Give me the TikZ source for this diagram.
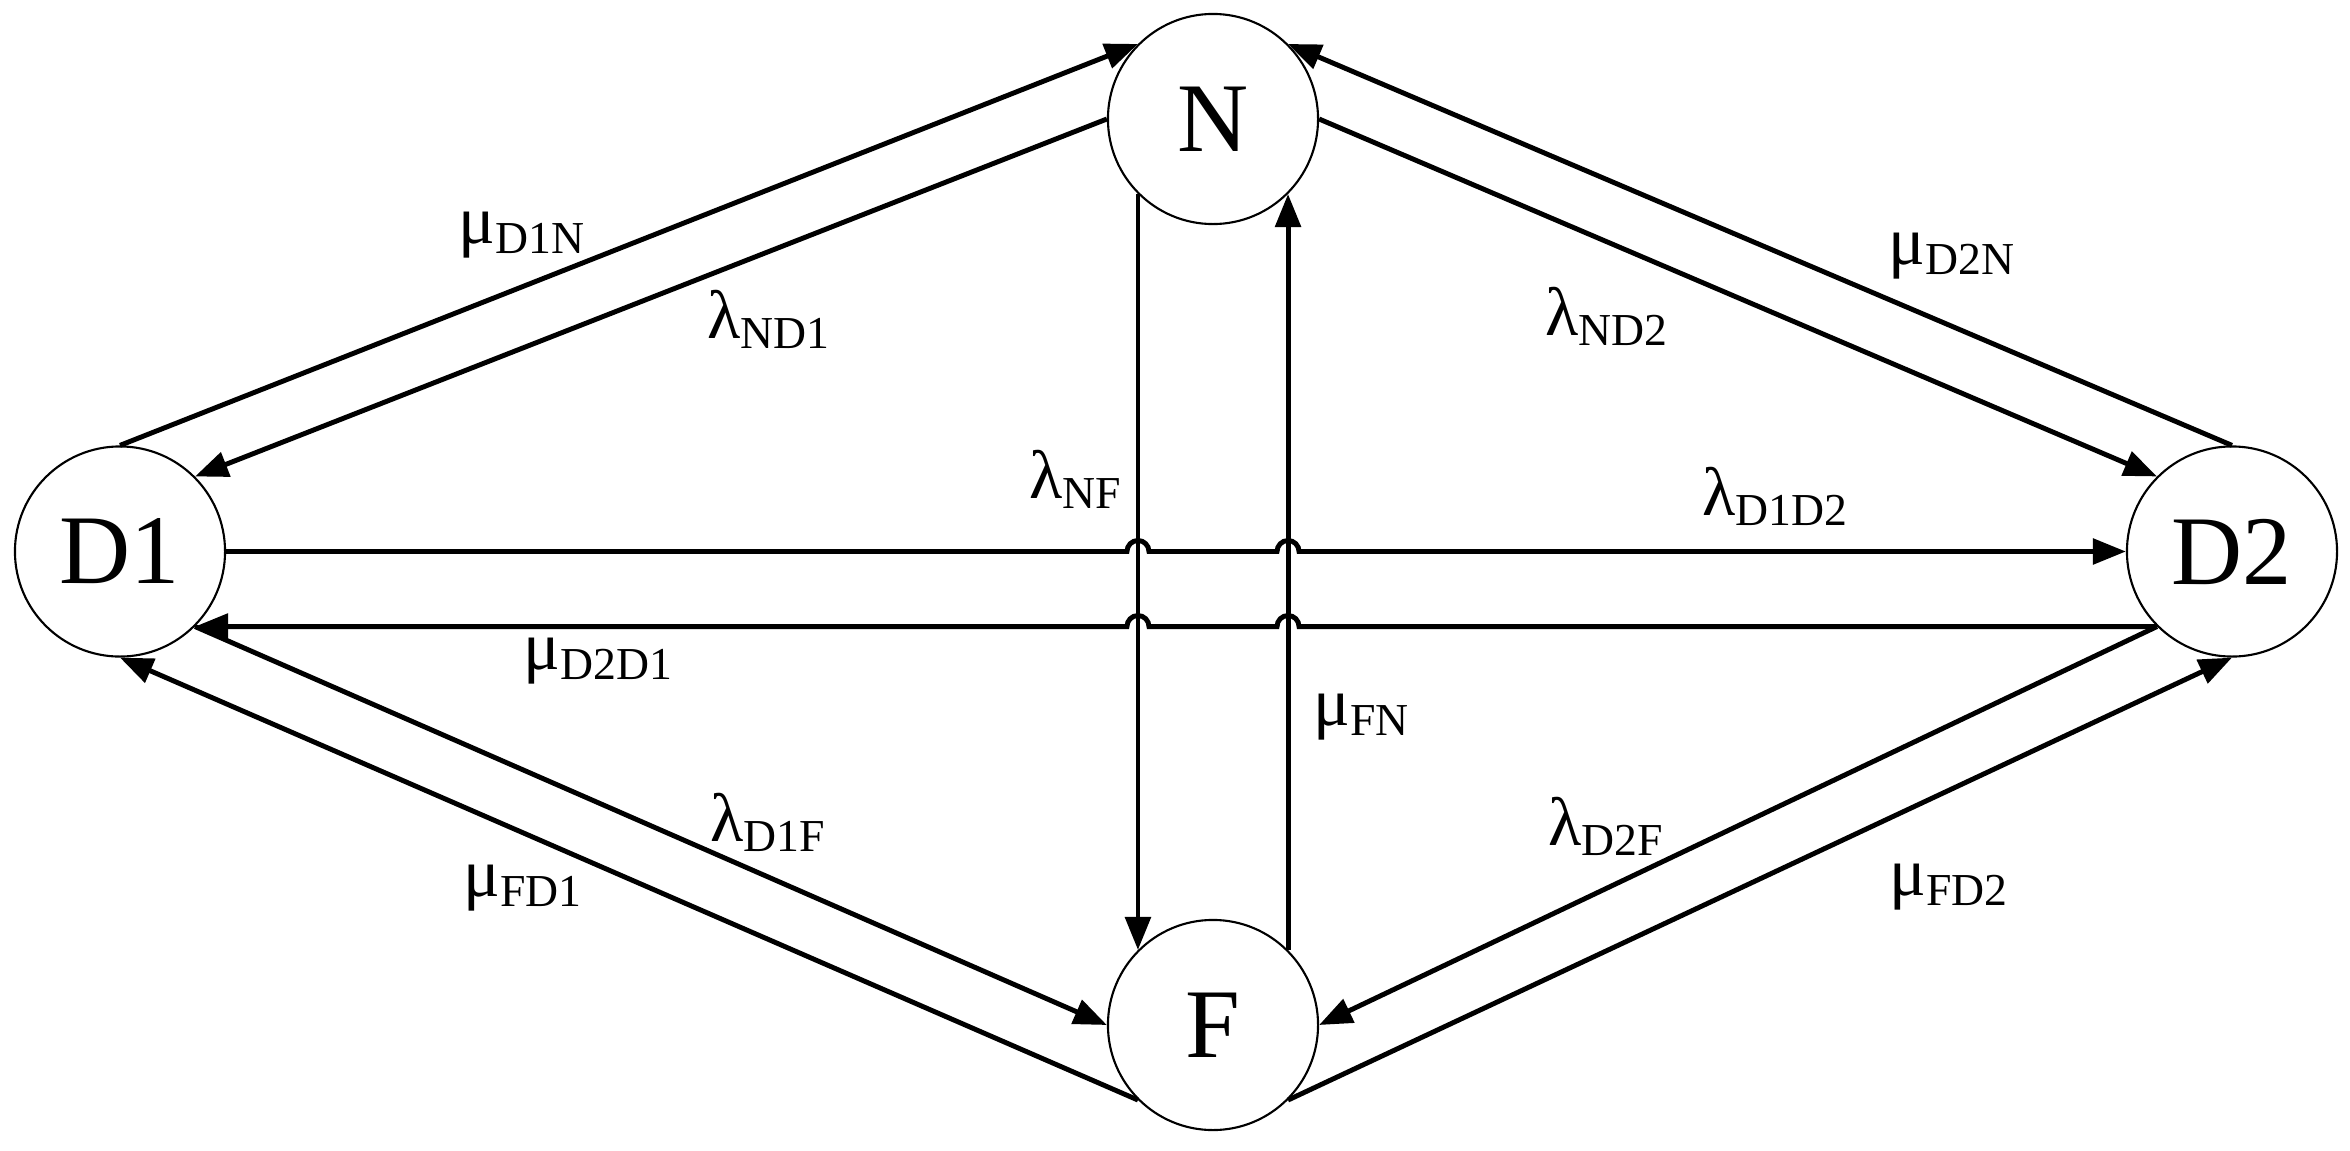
\documentclass[tikz,border=0pt]{standalone}
\usepackage{fontspec}
\setmainfont{Liberation Serif}
\usetikzlibrary{arrows.meta}
\newcommand\rlab[2]{#1\raisebox{-3pt}{\fontsize{13}{13}\selectfont #2}}
\begin{document}
\begin{tikzpicture}[x=0.01cm,y=0.01cm,
  stnode/.style={circle,draw,line width=0.6pt,minimum size=2.1cm,inner sep=0pt,font=\fontsize{28}{28}\selectfont},
  edg/.style={line width=1.4pt,-{Triangle[length=9.4pt,width=7.2pt]}},
  lbl/.style={inner sep=0pt,anchor=base west,font=\fontsize{19.5}{20}\selectfont}]
\useasboundingbox (0,0) rectangle (2350,1150);
\node[stnode] (N) at (1213,1031) {N};
\node[stnode] (D1) at (120,598.5) {D1};
\node[stnode] (D2) at (2232,598.5) {D2};
\node[stnode] (F) at (1213,125) {F};
% crossings
\coordinate (c1) at (N.south west |- D1.east);
\coordinate (c2) at (N.south east |- D1.east);
\coordinate (c3) at (N.south west |- D2.south west);
\coordinate (c4) at (N.south east |- D2.south west);
% diagonals
\draw[edg] (D1.north) -- (N.north west);
\draw[edg] (N.west) -- (D1.north east);
\draw[edg] (D2.north) -- (N.north east);
\draw[edg] (N.east) -- (D2.north west);
\draw[edg] (D1.south east) -- (F.west);
\draw[edg] (F.south west) -- (D1.south);
\draw[edg] (D2.south west) -- (F.east);
\draw[edg] (F.south east) -- (D2.south);
% verticals
\draw[edg] (N.south west) -- (F.north west);
\draw[edg] (F.north east) -- (N.south east);
% horizontals with jumps
\draw[edg] (D1.east) -- ([xshift=-0.11cm]c1) arc[start angle=180,end angle=0,radius=0.11cm]
  -- ([xshift=-0.11cm]c2) arc[start angle=180,end angle=0,radius=0.11cm] -- (D2.west);
\draw[edg] (D2.south west) -- ([xshift=0.11cm]c4) arc[start angle=0,end angle=180,radius=0.11cm]
  -- ([xshift=0.11cm]c3) arc[start angle=0,end angle=180,radius=0.11cm] -- (D1.south east);
% labels
\node[lbl] (l1) at (458,907) {\rlab{μ}{D1N}};
\node[lbl] (l2) at (707,812) {\rlab{λ}{ND1}};
\node[lbl] (l3) at (1888,886) {\rlab{μ}{D2N}};
\node[lbl] (l4) at (1545,815) {\rlab{λ}{ND2}};
\node[lbl] (l5) at (1029,652) {\rlab{λ}{NF}};
\node[lbl] (l6) at (1702,635) {\rlab{λ}{D1D2}};
\node[lbl] (l7) at (523,481) {\rlab{μ}{D2D1}};
\node[lbl] (l8) at (1313,425) {\rlab{μ}{FN}};
\node[lbl] (l9) at (710,309) {\rlab{λ}{D1F}};
\node[lbl] (l10) at (463,254) {\rlab{μ}{FD1}};
\node[lbl] (l11) at (1548,305) {\rlab{λ}{D2F}};
\node[lbl] (l12) at (1889,255) {\rlab{μ}{FD2}};
\end{tikzpicture}
\end{document}
